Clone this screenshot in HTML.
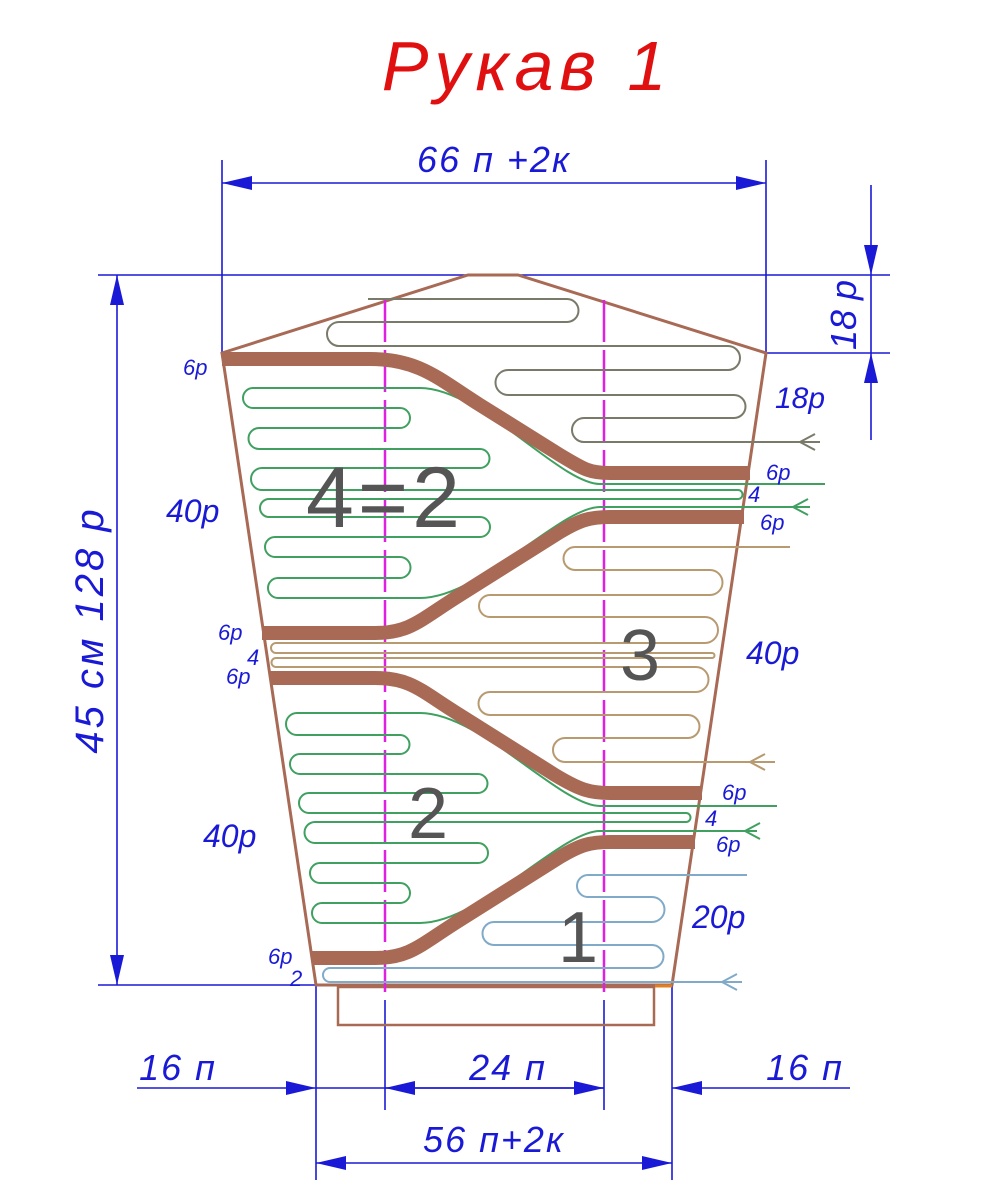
<!DOCTYPE html>
<html><head><meta charset="utf-8"><style>
html,body{margin:0;padding:0;background:#fff}
svg{display:block}
text{font-family:"Liberation Sans",sans-serif;font-style:italic}
.b{fill:#1a1ad6}
.g{fill:#555;font-style:normal}
</style></head><body>
<svg width="981" height="1200" viewBox="0 0 981 1200">
<defs>
<marker id="a" markerWidth="30" markerHeight="14" refX="30" refY="7" orient="auto-start-reverse" markerUnits="userSpaceOnUse">
<path d="M0,0 L30,7 L0,14 Z" fill="#1a1ad6"/></marker>
</defs>
<text x="527" y="90" font-size="70" fill="#e01010" text-anchor="middle" letter-spacing="6">Рукав 1</text>

<g stroke="#1a1ad6" stroke-width="1.6" fill="none">
<line x1="98" y1="275" x2="890" y2="275"/>
<line x1="222" y1="160" x2="222" y2="353"/>
<line x1="766" y1="160" x2="766" y2="353"/>
<line x1="222" y1="183" x2="766" y2="183" marker-start="url(#a)" marker-end="url(#a)"/>
<line x1="766" y1="353" x2="890" y2="353"/>
<line x1="871" y1="185" x2="871" y2="275" marker-end="url(#a)"/>
<line x1="871" y1="275" x2="871" y2="353"/>
<line x1="871" y1="440" x2="871" y2="353" marker-end="url(#a)"/>
<line x1="117" y1="275" x2="117" y2="985" marker-start="url(#a)" marker-end="url(#a)"/>
<line x1="98" y1="985" x2="316" y2="985"/>
<line x1="316" y1="985" x2="316" y2="1180"/>
<line x1="672" y1="985" x2="672" y2="1180"/>
<line x1="385" y1="1000" x2="385" y2="1110"/>
<line x1="604" y1="1000" x2="604" y2="1110"/>
<line x1="137" y1="1088" x2="316" y2="1088" marker-end="url(#a)"/>
<line x1="316" y1="1088" x2="385" y2="1088"/>
<line x1="604" y1="1088" x2="385" y2="1088" marker-end="url(#a)"/>
<line x1="385" y1="1088" x2="604" y2="1088" marker-end="url(#a)"/>
<line x1="850" y1="1088" x2="672" y2="1088" marker-end="url(#a)"/>
<line x1="316" y1="1163" x2="672" y2="1163" marker-start="url(#a)" marker-end="url(#a)"/>
</g>
<text class="b" x="494" y="172" font-size="36" text-anchor="middle" letter-spacing="2">66 п +2к</text>
<text class="b" x="0" y="0" font-size="36" text-anchor="middle" transform="translate(856,315) rotate(-90)">18 р</text>
<text class="b" x="0" y="0" font-size="40" text-anchor="middle" letter-spacing="3" transform="translate(103,630) rotate(-90)">45 см  128 р</text>
<text class="b" x="178" y="1080" font-size="36" text-anchor="middle" letter-spacing="2">16 п</text>
<text class="b" x="508" y="1080" font-size="36" text-anchor="middle" letter-spacing="2">24 п</text>
<text class="b" x="805" y="1080" font-size="36" text-anchor="middle" letter-spacing="2">16 п</text>
<text class="b" x="494" y="1152" font-size="36" text-anchor="middle" letter-spacing="2">56 п+2к</text>

<g stroke="#a86a55" stroke-width="3" fill="none">
<path d="M468,275 L518,275 L766,353 L672,985 L316,985 L222,353 Z"/>
<rect x="338" y="987" width="316" height="38" stroke-width="2.5"/>
</g>
<line x1="655" y1="986" x2="672" y2="986" stroke="#e08020" stroke-width="3"/>

<g stroke="#e020e0" stroke-width="2.5" stroke-dasharray="42,8">
<line x1="385" y1="300" x2="385" y2="1000"/>
<line x1="604" y1="300" x2="604" y2="1000"/>
</g>

<path fill="none" stroke="#7a7a6a" stroke-width="2" d="M368,299 H567 A11.5,11.5 0 0 1 567,322 H339 A12,12 0 0 0 339,346 H728 A12,12 0 0 1 728,370 H508 A12.5,12.5 0 0 0 508,395 H734 A11.5,11.5 0 0 1 734,418 H584 A12,12 0 0 0 584,442 H820"/>
<path fill="none" stroke="#7a7a6a" stroke-width="2" d="M815,434 L800,442 L815,450"/>

<path fill="none" stroke="#3fa060" stroke-width="2" d="M825,484 H600 C560,484 480,388 420,388 H253 A10,10 0 0 0 253,408 H400 A10,10 0 0 1 400,428 H259 A10.5,10.5 0 0 0 259,449 H480 A9.5,9.5 0 0 1 480,468 H262 A11,11 0 0 0 262,490 H738 A4.5,4.5 0 0 1 738,499 H269 A9,9 0 0 0 269,517 H480 A10,10 0 0 1 480,537 H275 A10,10 0 0 0 275,557 H400 A10.5,10.5 0 0 1 400,578 H278 A10,10 0 0 0 278,598 H420 C480,598 560,507 600,507 H810"/>
<path fill="none" stroke="#3fa060" stroke-width="2" d="M808,499 L793,507 L808,515"/>

<path fill="none" stroke="#b89a70" stroke-width="2" d="M790,547 H575 A11.5,11.5 0 0 0 575,570 H710 A12.5,12.5 0 0 1 710,595 H490 A11,11 0 0 0 490,617 H705 A13,13 0 0 1 705,643 H276 A5,5 0 0 0 276,653 H712 A2.5,2.5 0 0 1 712,658 H276 A4.5,4.5 0 0 0 276,667 H696 A12.5,12.5 0 0 1 696,692 H490 A11.5,11.5 0 0 0 490,715 H688 A11.5,11.5 0 0 1 688,738 H565 A12,12 0 0 0 565,762 H775"/>
<path fill="none" stroke="#b89a70" stroke-width="2" d="M765,754 L750,762 L765,770"/>

<path fill="none" stroke="#3fa060" stroke-width="2" d="M777,806 H600 C560,806 480,713 420,713 H297 A11,11 0 0 0 297,735 H400 A9.5,9.5 0 0 1 400,754 H300 A10,10 0 0 0 300,774 H478 A9.5,9.5 0 0 1 478,793 H309 A10,10 0 0 0 309,813 H686 A4.5,4.5 0 0 1 686,822 H315 A10.5,10.5 0 0 0 315,843 H478 A10,10 0 0 1 478,863 H320 A10,10 0 0 0 320,883 H400 A10,10 0 0 1 400,903 H322 A10,10 0 0 0 322,923 H420 C480,923 560,831 600,831 H757"/>
<path fill="none" stroke="#3fa060" stroke-width="2" d="M760,823 L745,831 L760,839"/>

<path fill="none" stroke="#80aac8" stroke-width="2" d="M747,875 H588 A11,11 0 0 0 588,897 H652 A12.5,12.5 0 0 1 652,922 H494 A11.5,11.5 0 0 0 494,945 H652 A11.5,11.5 0 0 1 652,968 H330 A7,7 0 0 0 330,982 H742"/>
<path fill="none" stroke="#80aac8" stroke-width="2" d="M737,974 L722,982 L737,990"/>

<g stroke="#a86a55" stroke-width="14" fill="none" stroke-linejoin="round">
<path d="M222,359 H370 C420,359 440,380 480,405 L560,455 C585,470 590,473 610,473 H750"/>
<path d="M744,517 H610 C590,517 580,520 560,532 L460,595 C420,620 410,633 375,633 H262"/>
<path d="M270,678 H375 C410,678 420,690 455,712 L555,775 C580,790 590,793 610,793 H702"/>
<path d="M695,842 H610 C590,842 580,845 560,857 L460,920 C420,945 410,958 375,958 H312"/>
</g>

<text class="g" x="385" y="527" font-size="86" text-anchor="middle" letter-spacing="4">4=2</text>
<text class="g" x="640" y="680" font-size="72" text-anchor="middle">3</text>
<text class="g" x="428" y="838" font-size="72" text-anchor="middle">2</text>
<text class="g" x="578" y="962" font-size="72" text-anchor="middle">1</text>

<g class="b">
<text x="183" y="375" font-size="22">6р</text>
<text x="775" y="408" font-size="30">18р</text>
<text x="766" y="480" font-size="22">6р</text>
<text x="748" y="502" font-size="22">4</text>
<text x="760" y="530" font-size="22">6р</text>
<text x="166" y="522" font-size="32">40р</text>
<text x="218" y="640" font-size="22">6р</text>
<text x="247" y="665" font-size="22">4</text>
<text x="226" y="684" font-size="22">6р</text>
<text x="746" y="664" font-size="32">40р</text>
<text x="722" y="800" font-size="22">6р</text>
<text x="705" y="826" font-size="22">4</text>
<text x="716" y="852" font-size="22">6р</text>
<text x="203" y="847" font-size="32">40р</text>
<text x="692" y="928" font-size="32">20р</text>
<text x="268" y="964" font-size="22">6р</text>
<text x="290" y="986" font-size="22">2</text>
</g>
</svg>
</body></html>
